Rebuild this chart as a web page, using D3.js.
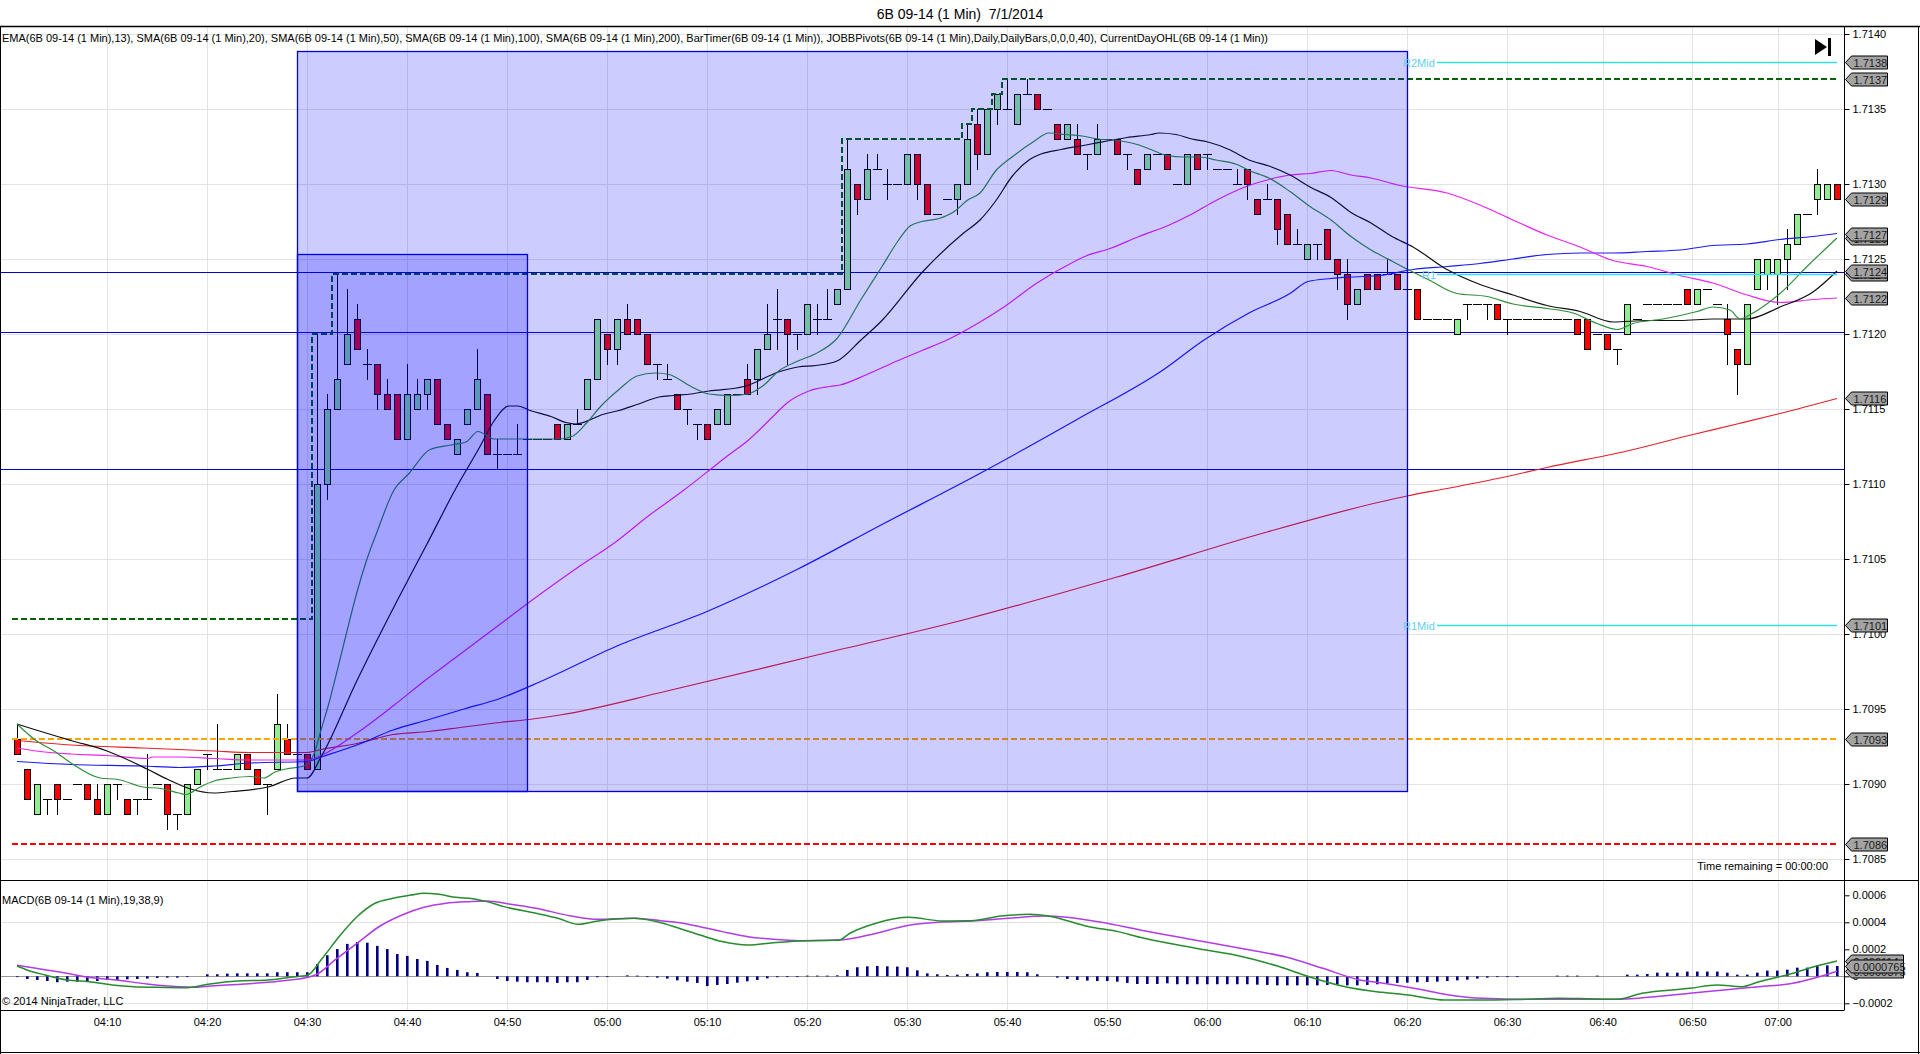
<!DOCTYPE html>
<html>
<head>
<meta charset="utf-8">
<script src="https://cdn.jsdelivr.net/npm/d3@7/dist/d3.min.js"></script>
<style>
html,body{margin:0;padding:0;background:#fff;overflow:hidden;}
svg{display:block;}
text{font-family:"Liberation Sans",Arial,sans-serif;}
</style>
</head>
<body>
<svg id="chart" width="1920" height="1054"></svg>
<script>
// ================= DATA =================
const chartTitle = "6B 09-14 (1 Min)  7/1/2014";
const indicatorText = "EMA(6B 09-14 (1 Min),13), SMA(6B 09-14 (1 Min),20), SMA(6B 09-14 (1 Min),50), SMA(6B 09-14 (1 Min),100), SMA(6B 09-14 (1 Min),200), BarTimer(6B 09-14 (1 Min)), JOBBPivots(6B 09-14 (1 Min),Daily,DailyBars,0,0,0,40), CurrentDayOHL(6B 09-14 (1 Min))";
const macdTitle = "MACD(6B 09-14 (1 Min),19,38,9)";
const copyrightText = "\u00A9 2014 NinjaTrader, LLC";
const timerText = "Time remaining = 00:00:00";

// time axis: bar index of each label (bars with no trades are skipped after 06:30)
const timeTickBars = [9,19,29,39,49,59,69,79,89,99,109,119,129,139,149,158.57,167.53,176.07];
const timeTickLabels = ["04:10","04:20","04:30","04:40","04:50","05:00","05:10","05:20","05:30","05:40","05:50","06:00","06:10","06:20","06:30","06:40","06:50","07:00"];
const priceTicks = [1.7085,1.7090,1.7095,1.7100,1.7105,1.7110,1.7115,1.7120,1.7125,1.7130,1.7135,1.7140];
const macdTicks = [-0.0002,0,0.0002,0.0004,0.0006];

// 1-minute OHLC bars
const barOpen = [
1.7093,1.7091,1.7088,1.7089,1.7090,1.7089,1.7090,1.7090,1.7089,1.7088,
1.7090,1.7089,1.7089,1.7089,1.7090,1.7090,1.7088,1.7088,1.7090,1.7092,
1.7091,1.7091,1.7091,1.7092,1.7091,1.7090,1.7091,1.7093,1.7092,1.7092,
1.7091,1.7110,1.7115,1.7118,1.7121,1.7118,1.7118,1.7116,1.7116,1.7113,
1.7115,1.7116,1.7117,1.7114,1.7112,1.7114,1.7115,1.7116,1.7112,1.7112,
1.7112,1.7113,1.7113,1.7113,1.7114,1.7113,1.7114,1.7115,1.7117,1.7120,
1.7119,1.7121,1.7121,1.7120,1.7118,1.7117,1.7116,1.7115,1.7114,1.7114,
1.7114,1.7114,1.7116,1.7117,1.7117,1.7119,1.7121,1.7121,1.7120,1.7120,
1.7121,1.7121,1.7122,1.7123,1.7130,1.7129,1.7131,1.7130,1.7130,1.7130,
1.7132,1.7130,1.7128,1.7129,1.7129,1.7130,1.7134,1.7132,1.7135,1.7135,
1.7134,1.7136,1.7136,1.7135,1.7134,1.7133,1.7133,1.7132,1.7132,1.7133,
1.7133,1.7132,1.7131,1.7131,1.7132,1.7132,1.7130,1.7130,1.7132,1.7132,
1.7131,1.7131,1.7130,1.7131,1.7129,1.7129,1.7129,1.7128,1.7126,1.7125,
1.7126,1.7127,1.7125,1.7124,1.7122,1.7124,1.7124,1.7124,1.7124,1.7123,
1.7123,1.7121,1.7121,1.7121,1.7120,1.7122,1.7122,1.7122,1.7122,1.7121,
1.7121,1.7121,1.7121,1.7121,1.7121,1.7121,1.7121,1.7121,1.7120,1.7120,
1.7119,1.7120,1.7121,1.7122,1.7122,1.7122,1.7122,1.7123,1.7122,1.7123,
1.7122,1.7121,1.7119,1.7118,1.7123,1.7124,1.7124,1.7125,1.7126,1.7128,
1.7129,1.7129,1.7130];
const barHigh = [
1.7094,1.7091,1.7090,1.7089,1.7090,1.7089,1.7090,1.7090,1.7090,1.7090,
1.7090,1.7089,1.7089,1.7092,1.7090,1.7090,1.7088,1.7090,1.7091,1.7092,
1.7094,1.7091,1.7092,1.7092,1.7091,1.7090,1.7096,1.7094,1.7092,1.7092,
1.7120,1.7116,1.7124,1.7123,1.7122,1.7119,1.7118,1.7117,1.7116,1.7118,
1.7117,1.7117,1.7117,1.7114,1.7113,1.7115,1.7119,1.7116,1.7113,1.7112,
1.7114,1.7113,1.7113,1.7113,1.7114,1.7114,1.7115,1.7117,1.7121,1.7120,
1.7121,1.7122,1.7121,1.7120,1.7118,1.7118,1.7116,1.7115,1.7114,1.7114,
1.7115,1.7116,1.7116,1.7118,1.7119,1.7122,1.7123,1.7121,1.7120,1.7122,
1.7122,1.7123,1.7123,1.7133,1.7130,1.7132,1.7132,1.7131,1.7130,1.7132,
1.7132,1.7130,1.7128,1.7129,1.7130,1.7134,1.7135,1.7135,1.7136,1.7137,
1.7136,1.7137,1.7136,1.7135,1.7134,1.7134,1.7134,1.7132,1.7134,1.7133,
1.7133,1.7132,1.7131,1.7132,1.7132,1.7132,1.7130,1.7132,1.7132,1.7132,
1.7131,1.7131,1.7131,1.7131,1.7129,1.7130,1.7129,1.7128,1.7127,1.7126,
1.7126,1.7127,1.7125,1.7125,1.7123,1.7124,1.7124,1.7125,1.7124,1.7123,
1.7123,1.7121,1.7121,1.7121,1.7121,1.7122,1.7122,1.7122,1.7122,1.7121,
1.7121,1.7121,1.7121,1.7121,1.7121,1.7121,1.7121,1.7121,1.7120,1.7120,
1.7119,1.7122,1.7121,1.7122,1.7122,1.7122,1.7122,1.7123,1.7123,1.7123,
1.7122,1.7122,1.7119,1.7122,1.7125,1.7125,1.7125,1.7127,1.7128,1.7128,
1.7131,1.7130,1.7130];
const barLow = [
1.7092,1.7089,1.7088,1.7088,1.7088,1.7089,1.7090,1.7089,1.7088,1.7088,
1.7089,1.7088,1.7088,1.7089,1.7090,1.7087,1.7087,1.7088,1.7090,1.7091,
1.7091,1.7091,1.7091,1.7091,1.7090,1.7088,1.7091,1.7092,1.7092,1.7091,
1.7091,1.7109,1.7115,1.7118,1.7119,1.7117,1.7115,1.7115,1.7113,1.7113,
1.7115,1.7115,1.7114,1.7113,1.7112,1.7114,1.7115,1.7112,1.7111,1.7112,
1.7112,1.7113,1.7113,1.7113,1.7113,1.7113,1.7114,1.7115,1.7117,1.7118,
1.7118,1.7120,1.7120,1.7118,1.7117,1.7117,1.7115,1.7114,1.7113,1.7113,
1.7114,1.7114,1.7116,1.7116,1.7116,1.7119,1.7119,1.7118,1.7119,1.7120,
1.7120,1.7121,1.7122,1.7123,1.7128,1.7129,1.7131,1.7129,1.7130,1.7130,
1.7129,1.7128,1.7128,1.7129,1.7128,1.7130,1.7131,1.7132,1.7134,1.7135,
1.7134,1.7136,1.7135,1.7135,1.7133,1.7133,1.7132,1.7131,1.7132,1.7133,
1.7132,1.7131,1.7130,1.7131,1.7132,1.7131,1.7130,1.7130,1.7131,1.7131,
1.7131,1.7131,1.7130,1.7129,1.7128,1.7129,1.7126,1.7126,1.7126,1.7125,
1.7125,1.7125,1.7123,1.7121,1.7122,1.7123,1.7123,1.7124,1.7123,1.7123,
1.7121,1.7121,1.7121,1.7121,1.7120,1.7121,1.7122,1.7121,1.7121,1.7120,
1.7121,1.7121,1.7121,1.7121,1.7121,1.7121,1.7120,1.7119,1.7120,1.7119,
1.7118,1.7120,1.7121,1.7122,1.7122,1.7122,1.7122,1.7122,1.7122,1.7123,
1.7122,1.7118,1.7116,1.7118,1.7123,1.7123,1.7122,1.7123,1.7126,1.7128,
1.7128,1.7129,1.7129];
const barClose = [
1.7092,1.7089,1.7090,1.7089,1.7089,1.7089,1.7090,1.7089,1.7088,1.7090,
1.7090,1.7088,1.7089,1.7089,1.7090,1.7088,1.7088,1.7090,1.7091,1.7092,
1.7091,1.7091,1.7092,1.7091,1.7090,1.7090,1.7094,1.7092,1.7092,1.7091,
1.7110,1.7115,1.7117,1.7120,1.7119,1.7118,1.7116,1.7115,1.7113,1.7116,
1.7116,1.7117,1.7114,1.7113,1.7113,1.7115,1.7117,1.7112,1.7112,1.7112,
1.7112,1.7113,1.7113,1.7113,1.7113,1.7114,1.7114,1.7117,1.7121,1.7119,
1.7121,1.7120,1.7120,1.7118,1.7118,1.7117,1.7115,1.7115,1.7114,1.7113,
1.7115,1.7116,1.7116,1.7116,1.7119,1.7120,1.7121,1.7120,1.7120,1.7122,
1.7121,1.7121,1.7123,1.7131,1.7129,1.7131,1.7131,1.7130,1.7130,1.7132,
1.7130,1.7128,1.7128,1.7129,1.7130,1.7133,1.7132,1.7135,1.7136,1.7135,
1.7136,1.7136,1.7135,1.7135,1.7133,1.7134,1.7132,1.7132,1.7133,1.7133,
1.7132,1.7132,1.7130,1.7132,1.7132,1.7131,1.7130,1.7132,1.7131,1.7132,
1.7131,1.7131,1.7130,1.7130,1.7128,1.7129,1.7127,1.7126,1.7126,1.7126,
1.7126,1.7125,1.7124,1.7122,1.7123,1.7123,1.7123,1.7124,1.7123,1.7123,
1.7121,1.7121,1.7121,1.7121,1.7121,1.7122,1.7122,1.7122,1.7121,1.7121,
1.7121,1.7121,1.7121,1.7121,1.7121,1.7121,1.7120,1.7119,1.7120,1.7119,
1.7119,1.7122,1.7121,1.7122,1.7122,1.7122,1.7122,1.7122,1.7123,1.7123,
1.7122,1.7120,1.7118,1.7122,1.7125,1.7125,1.7125,1.7126,1.7128,1.7128,
1.7130,1.7130,1.7129];

// moving averages: [bar index, price]
const ema13 = [[0,1.70940],[1.9,1.70929],[3.7,1.70922],[5.4,1.70914],[8.3,1.70904],[10.1,1.70903],[12.6,1.70898],[14.4,1.70897],[16.2,1.70894],[16.9,1.70893],[18.3,1.70898],[19.7,1.70902],[21.5,1.70904],[23.3,1.70905],[24.7,1.70904],[25.8,1.70908],[26.9,1.70910],[28.7,1.70912],[29.7,1.70920],[30.4,1.70936],[31.2,1.70954],[32,1.70975],[33,1.71002],[34,1.71028],[35,1.71050],[36,1.71068],[37.7,1.71096],[39.2,1.71107],[41.3,1.71123],[43.4,1.71126],[44.9,1.71128],[46.1,1.71135],[47.7,1.71130],[49.2,1.71130],[51.3,1.71130],[54.2,1.71130],[55.6,1.71132],[57,1.71141],[58.4,1.71152],[60.2,1.71163],[62,1.71172],[63.8,1.71174],[65.2,1.71173],[67.4,1.71165],[69.2,1.71160],[71.3,1.71159],[73.1,1.71160],[74.5,1.71165],[76.3,1.71176],[78.1,1.71182],[79.9,1.71187],[82,1.71197],[84.4,1.71223],[86.5,1.71245],[88.1,1.71262],[89.3,1.71272],[90.5,1.71275],[92.2,1.71277],[93.8,1.71282],[95,1.71289],[96.3,1.71294],[97.9,1.71309],[99.5,1.71318],[101.6,1.71328],[103.2,1.71334],[104.8,1.71333],[106.5,1.71332],[108.1,1.71330],[110.1,1.71329],[112.2,1.71326],[113.4,1.71323],[115,1.71319],[116.7,1.71318],[118.3,1.71318],[119.9,1.71316],[122,1.71313],[123.2,1.71309],[125.2,1.71304],[127.3,1.71295],[129.3,1.71285],[131.4,1.71276],[133.4,1.71265],[135.4,1.71256],[137.1,1.71250],[139.1,1.71243],[141.2,1.71236],[144,1.71227],[147,1.71225],[149.6,1.71220],[153,1.71217],[155.6,1.71214],[158,1.71207],[160,1.71203],[161.6,1.71207],[164.6,1.71210],[168,1.71215],[169.6,1.71218],[171.3,1.71216],[172.3,1.71210],[173.6,1.71214],[176.3,1.71227],[179,1.71245],[182,1.71264]];
const sma20 = [[0,1.70940],[1.9,1.70936],[5.4,1.70929],[9,1.70922],[10.8,1.70917],[13,1.70910],[15.1,1.70903],[17.2,1.70897],[19.7,1.70894],[21.5,1.70895],[25.1,1.70898],[27.9,1.70904],[29,1.70904],[30.4,1.70918],[34,1.70969],[38,1.71022],[41,1.71060],[43.8,1.71096],[46.3,1.71125],[47.7,1.71142],[49.2,1.71152],[50.1,1.71152],[51.3,1.71149],[53.4,1.71145],[54.9,1.71141],[55.9,1.71140],[57.4,1.71143],[58.4,1.71146],[60.2,1.71149],[62,1.71153],[64.2,1.71158],[65.6,1.71159],[67.4,1.71160],[69.2,1.71162],[72.7,1.71165],[76.3,1.71175],[78.1,1.71178],[79.9,1.71179],[82,1.71182],[84.4,1.71196],[86.5,1.71209],[90.5,1.71241],[94.6,1.71267],[96.3,1.71276],[97.9,1.71289],[99.5,1.71305],[101.2,1.71316],[102.4,1.71320],[104.4,1.71323],[106.9,1.71326],[109.3,1.71329],[111,1.71331],[113.4,1.71333],[114.2,1.71334],[115.9,1.71333],[117.5,1.71330],[119.1,1.71328],[121.2,1.71323],[123.2,1.71316],[125.2,1.71312],[127.3,1.71306],[129.3,1.71298],[131.4,1.71291],[133.4,1.71281],[135.4,1.71274],[137.5,1.71265],[139.6,1.71258],[143,1.71243],[146.3,1.71233],[149.6,1.71226],[153,1.71219],[156.3,1.71215],[159.6,1.71208],[163,1.71209],[166.3,1.71209],[169.6,1.71210],[173,1.71210],[176.3,1.71218],[179.6,1.71228],[182,1.71242]];
const sma50 = [[0,1.70924],[1.9,1.70922],[5.4,1.70920],[9,1.70919],[13.1,1.70917],[13.5,1.70918],[16.2,1.70918],[19.7,1.70917],[23.3,1.70916],[29,1.70916],[30.4,1.70919],[34,1.70934],[37.6,1.70952],[40.8,1.70969],[44,1.70985],[48,1.71005],[52,1.71025],[56,1.71044],[60,1.71062],[63,1.71078],[66.7,1.71096],[69.2,1.71109],[70.9,1.71118],[73.1,1.71129],[75.6,1.71145],[77,1.71154],[79.2,1.71162],[81.3,1.71165],[82.3,1.71166],[85,1.71173],[88,1.71182],[90.5,1.71189],[93,1.71196],[95.8,1.71206],[98.7,1.71218],[102,1.71234],[104.8,1.71245],[106.9,1.71252],[109.3,1.71257],[112.2,1.71265],[115,1.71272],[117.5,1.71280],[119.9,1.71289],[122.8,1.71298],[125.2,1.71303],[127.3,1.71306],[129.3,1.71307],[131.4,1.71309],[133.4,1.71306],[135.4,1.71304],[138.3,1.71299],[143,1.71294],[146.3,1.71286],[149.6,1.71276],[153,1.71266],[156.3,1.71258],[159.6,1.71249],[163,1.71245],[166.3,1.71239],[169.6,1.71234],[173,1.71226],[176.3,1.71221],[179.6,1.71223],[182,1.71224]];
const sma100 = [[0,1.70915],[5.4,1.70913],[12.6,1.70912],[16.2,1.70911],[19.7,1.70912],[23.3,1.70914],[29,1.70915],[30.4,1.70918],[34,1.70926],[37.6,1.70936],[41.2,1.70943],[44.7,1.70950],[48.3,1.70957],[52.6,1.70969],[60,1.70992],[69,1.71015],[78,1.71043],[86.5,1.71073],[96,1.71106],[106,1.71143],[114.6,1.71176],[118.7,1.71196],[123.2,1.71214],[127.3,1.71227],[129.1,1.71235],[131.4,1.71237],[133.4,1.71238],[136.3,1.71239],[139.6,1.71243],[143,1.71245],[146.3,1.71247],[149.6,1.71250],[153,1.71253],[156.3,1.71254],[159.6,1.71254],[163,1.71255],[166.3,1.71256],[169.6,1.71259],[173,1.71260],[176.3,1.71263],[179.6,1.71265],[182,1.71267]];
const sma200 = [[0,1.70929],[5.4,1.70926],[12.6,1.70924],[19.7,1.70922],[23.3,1.70921],[29,1.70921],[30.4,1.70923],[34,1.70927],[37.6,1.70933],[41.2,1.70935],[44.7,1.70938],[48.3,1.70941],[51.2,1.70943],[54.3,1.70946],[65,1.70962],[80,1.70986],[95,1.71010],[110,1.71038],[125,1.71068],[136.3,1.71088],[139,1.71092],[143,1.71097],[149,1.71105],[153,1.71111],[161,1.71122],[167.6,1.71133],[172,1.71140],[176.3,1.71147],[182,1.71157]];

// MACD(19,38,9): lines [bar index, value]; histogram per bar
const macdLine = [[0,0.000076],[1,0.000047],[2.8,0.000010],[5,-0.000027],[7.2,-0.000040],[9.5,-0.000064],[11.7,-0.000077],[13.9,-0.000081],[17,-0.000084],[19.3,-0.000057],[22,-0.000035],[25.1,-0.000027],[27.3,-0.000007],[29.1,0.000010],[30.4,0.000121],[32.2,0.000293],[34,0.000441],[35.8,0.000541],[37.6,0.000578],[39.4,0.000602],[40.7,0.000615],[42,0.000610],[43.8,0.000585],[45.6,0.000575],[47,0.000553],[48.7,0.000516],[51.9,0.000467],[54.1,0.000430],[56.1,0.000385],[58.1,0.000410],[59.9,0.000424],[61.7,0.000430],[64,0.000404],[66.2,0.000356],[68.3,0.000306],[70.5,0.000257],[73.1,0.000232],[75.6,0.000249],[78.2,0.000262],[82.2,0.000269],[83.3,0.000319],[85.9,0.000393],[89.2,0.000437],[92.5,0.000410],[95.4,0.000412],[98.4,0.000447],[101.3,0.000459],[103.1,0.000447],[107.2,0.000367],[110.1,0.000331],[112.3,0.000289],[115.2,0.000244],[118.9,0.000195],[121.8,0.000158],[126.2,0.000072],[129.2,-0.000003],[132.8,-0.000077],[136.5,-0.000119],[139.1,-0.000139],[142.8,-0.000176],[146.3,-0.000176],[150,-0.000172],[154.2,-0.000163],[157,-0.000166],[160,-0.000170],[162.5,-0.000126],[167.3,-0.000089],[170,-0.000064],[172.5,-0.000077],[174.2,-0.000040],[177.6,0.000022],[179.7,0.000071],[182,0.000114]];
const macdAvg = [[0,0.000081],[1.9,0.000059],[5,0.000022],[7.2,-0.000007],[9.9,-0.000027],[13,-0.000057],[16.2,-0.000077],[17.5,-0.000081],[19.7,-0.000070],[22.4,-0.000059],[25.1,-0.000044],[27.3,-0.000027],[29.1,-0.000007],[30,0.000015],[31.8,0.000121],[34,0.000244],[36.2,0.000367],[38.5,0.000454],[40.7,0.000511],[42.9,0.000541],[45.2,0.000553],[47,0.000558],[49.2,0.000536],[51.9,0.000504],[55.4,0.000447],[58.1,0.000422],[61.7,0.000430],[64.4,0.000412],[66.6,0.000393],[68.3,0.000367],[70.5,0.000331],[73.1,0.000293],[75.6,0.000274],[78.2,0.000264],[82.2,0.000269],[85.2,0.000306],[89.2,0.000378],[92.5,0.000402],[95.4,0.000410],[99.1,0.000430],[102.8,0.000447],[105,0.000437],[108.6,0.000398],[112.3,0.000343],[116,0.000293],[119.6,0.000244],[123.3,0.000195],[127,0.000141],[130.6,0.000059],[134.3,-0.000027],[136.3,-0.000047],[139.7,-0.000089],[143.2,-0.000138],[146.6,-0.000163],[150.8,-0.000170],[157,-0.000170],[160.4,-0.000170],[163.8,-0.000151],[167.3,-0.000126],[170.7,-0.000101],[174.2,-0.000077],[177.6,-0.000052],[179.7,-0.000015],[182,0.0000375]];
const macdDiff = [
-0.000002,-0.000020,-0.000027,-0.000035,-0.000044,-0.000040,-0.000040,-0.000040,-0.000035,-0.000027,
-0.000027,-0.000022,-0.000020,-0.000017,-0.000012,-0.000010,-0.000010,-0.000002,0,0.000015,
0.000015,0.000020,0.000022,0.000022,0.000022,0.000022,0.000030,0.000030,0.000030,0.000030,
0.000091,0.000156,0.000202,0.000240,0.000254,0.000249,0.000225,0.000202,0.000165,0.000151,
0.000128,0.000114,0.000084,0.000062,0.000047,0.000030,0.000025,0,-0.000020,-0.000035,
-0.000040,-0.000044,-0.000044,-0.000044,-0.000049,-0.000044,-0.000044,-0.000027,-0.000007,-0.000005,
0,0.000007,0.000005,-0.000002,-0.000010,-0.000017,-0.000030,-0.000040,-0.000049,-0.000072,
-0.000064,-0.000057,-0.000047,-0.000037,-0.000027,-0.000015,-0.000007,-0.000005,-0.000002,0.000005,
0.000005,0.000005,0.000007,0.000047,0.000067,0.000074,0.000077,0.000074,0.000072,0.000067,
0.000044,0.000022,0.000015,0.000010,0.000012,0.000017,0.000022,0.000030,0.000032,0.000032,
0.000032,0.000030,0.000015,0,-0.000010,-0.000020,-0.000027,-0.000032,-0.000035,-0.000035,
-0.000040,-0.000049,-0.000057,-0.000057,-0.000057,-0.000052,-0.000059,-0.000059,-0.000059,-0.000059,
-0.000059,-0.000059,-0.000059,-0.000059,-0.000062,-0.000064,-0.000067,-0.000067,-0.000067,-0.000067,
-0.000067,-0.000064,-0.000062,-0.000067,-0.000067,-0.000064,-0.000059,-0.000054,-0.000049,-0.000047,
-0.000044,-0.000042,-0.000040,-0.000035,-0.000030,-0.000025,-0.000017,-0.000010,-0.000005,-0.000002,
-0.000002,0,0,0,0.000005,0.000005,0.000005,0,0.000005,0,
0,0.000012,0.000012,0.000017,0.000027,0.000027,0.000027,0.000035,0.000035,0.000035,
0.000035,0.000027,0.000012,0.000012,0.000027,0.000042,0.000042,0.000049,0.000064,0.000064,
0.000081,0.000081,0.0000765];

// CurrentDayOHL
const dayOpen = 1.7093;
const dayLow = 1.7086;
const dayHighSteps = [[0,1.7101],[30,1.7120],[32,1.7124],[83,1.7133],[95,1.7134],[96,1.7135],[98,1.7136],[99,1.7137]];
// JOBBPivots: opening range boxes, range lines, pivot levels
const rangeBoxes = [{from:28,to:139,top:1.71389,bottom:1.70895},{from:28,to:51,top:1.71253,bottom:1.70895}];
const rangeLines = [1.712415,1.71201,1.71110];
const pivotNames = ["R2Mid","R1","R1Mid"];
const pivotValues = [1.71381,1.71240,1.71006];

// ================= LAYOUT =================
const W = 1920, H = 1054;
const plotRight = 1844, priceTop = 27, priceBottom = 880, macdBottom = 1010.5;
const lastBar = barClose.length - 1;
const svg = d3.select("#chart");
const x = d3.scaleLinear().domain([0, lastBar]).range([17, 17 + 10 * lastBar]);
const y = d3.scaleLinear().domain([1.7085, 1.7140]).range([859, 34]);
const ym = d3.scaleLinear().domain([-0.0002, 0.0006]).range([1003.3, 895.3]);

svg.append("rect").attr("width", W).attr("height", H).attr("fill", "#fff");
const defs = svg.append("defs");
defs.append("clipPath").attr("id", "clipP").append("rect").attr("x", 0).attr("y", priceTop).attr("width", plotRight).attr("height", priceBottom - priceTop);
defs.append("clipPath").attr("id", "clipM").append("rect").attr("x", 0).attr("y", priceBottom).attr("width", plotRight).attr("height", macdBottom - priceBottom);

// title
svg.append("text").attr("x", 960).attr("y", 18.5).attr("text-anchor", "middle").attr("font-size", 14).style("white-space", "pre").text(chartTitle);

// grid
const grid = svg.append("g").attr("stroke", "#e3e3e3").attr("stroke-width", 1);
priceTicks.forEach(p => {
  const yy = Math.round(y(p)) + 0.5;
  grid.append("line").attr("x1", 0).attr("x2", plotRight).attr("y1", yy).attr("y2", yy);
});
[0.0004, -0.0002].forEach(v => {
  const yy = Math.round(ym(v)) + 0.5;
  grid.append("line").attr("x1", 0).attr("x2", plotRight).attr("y1", yy).attr("y2", yy);
});
timeTickBars.forEach(b => {
  const xx = Math.round(x(b)) + 0.5;
  grid.append("line").attr("x1", xx).attr("x2", xx).attr("y1", priceTop).attr("y2", macdBottom);
});

// price panel content
const pg = svg.append("g").attr("clip-path", "url(#clipP)");

// range lines
rangeLines.forEach(p => {
  const yy = Math.round(y(p)) + 0.5;
  pg.append("line").attr("x1", 0).attr("x2", plotRight).attr("y1", yy).attr("y2", yy).attr("stroke", "#0000c8").attr("stroke-width", 1.2);
});

// candles
const cg = pg.append("g");
barOpen.forEach((o, i) => {
  const c = barClose[i], h = barHigh[i], l = barLow[i];
  const cx = Math.round(x(i)) + 0.5;
  if (h - l > 1e-7) {
    cg.append("line").attr("x1", cx).attr("x2", cx).attr("y1", Math.round(y(h))).attr("y2", Math.round(y(l)) + 1).attr("stroke", "#000").attr("stroke-width", 1);
  }
  if (Math.abs(o - c) < 1e-7) {
    const yy = Math.round(y(o)) + 0.5;
    cg.append("line").attr("x1", cx - 4.5).attr("x2", cx + 4.5).attr("y1", yy).attr("y2", yy).attr("stroke", "#000").attr("stroke-width", 1);
  } else {
    const t = Math.round(y(Math.max(o, c))), b = Math.round(y(Math.min(o, c)));
    cg.append("rect").attr("x", cx - 3).attr("y", t + 0.5).attr("width", 6).attr("height", b - t)
      .attr("fill", c > o ? "#90ee90" : "#ff0000").attr("stroke", "#000").attr("stroke-width", 1);
  }
});

// CurrentDayOHL dashed lines
const dashG = pg.append("g").attr("fill", "none").attr("stroke-width", 2);
dashG.append("line").attr("x1", x(-0.5)).attr("x2", x(lastBar + 0.1)).attr("y1", y(dayOpen)).attr("y2", y(dayOpen)).attr("stroke", "#ffa500").attr("stroke-dasharray", "6,3");
dashG.append("line").attr("x1", x(-0.5)).attr("x2", x(lastBar + 0.1)).attr("y1", y(dayLow)).attr("y2", y(dayLow)).attr("stroke", "#ff0000").attr("stroke-dasharray", "6,3");
const stepPts = [];
dayHighSteps.forEach((s, k) => {
  const end = k < dayHighSteps.length - 1 ? dayHighSteps[k + 1][0] : lastBar + 0.6;
  stepPts.push([s[0] - 0.5, s[1]], [end - 0.5, s[1]]);
});
dashG.append("path").attr("d", d3.line().x(d => x(d[0])).y(d => y(d[1]))(stepPts)).attr("stroke", "#006400").attr("stroke-dasharray", "6,3");

// moving averages
const maLine = d3.line().x(d => x(d[0])).y(d => y(d[1])).curve(d3.curveMonotoneX);
const maG = pg.append("g").attr("fill", "none").attr("stroke-width", 1.2);
maG.append("path").attr("d", maLine(sma200)).attr("stroke", "#e8202a");
maG.append("path").attr("d", maLine(sma100)).attr("stroke", "#1c1cf0");
maG.append("path").attr("d", maLine(sma50)).attr("stroke", "#ee22ee");
maG.append("path").attr("d", maLine(sma20)).attr("stroke", "#111");
maG.append("path").attr("d", maLine(ema13)).attr("stroke", "#2f8f3a");

// opening range boxes (translucent overlay)
rangeBoxes.forEach(bx => {
  const x0 = Math.round(x(bx.from)) + 0.5, x1 = Math.round(x(bx.to)) + 0.5;
  const y0 = Math.round(y(bx.top)) + 0.5, y1 = Math.round(y(bx.bottom)) + 0.5;
  pg.append("rect").attr("x", x0).attr("y", y0).attr("width", x1 - x0).attr("height", y1 - y0)
    .attr("fill", "rgba(0,0,255,0.2)").attr("stroke", "#0000dd").attr("stroke-width", 1.3);
});

// pivot levels
pivotValues.forEach((v, k) => {
  const yy = Math.round(y(v)) + 0.5;
  pg.append("line").attr("x1", x(142)).attr("x2", x(lastBar)).attr("y1", yy).attr("y2", yy).attr("stroke", "#33e0e6").attr("stroke-width", 1.3);
  const tx = pivotNames[k] === "R1" ? x(140.5) : x(138.6);
  pg.append("text").attr("x", tx).attr("y", yy + 4).attr("font-size", 11).attr("fill", "#5fd0f0").text(pivotNames[k]);
});

// ---- MACD panel ----
const mg = svg.append("g").attr("clip-path", "url(#clipM)");
mg.append("line").attr("x1", 0).attr("x2", plotRight).attr("y1", Math.round(ym(0)) + 0.5).attr("y2", Math.round(ym(0)) + 0.5).attr("stroke", "#9a9a9a").attr("stroke-width", 1);
macdDiff.forEach((v, i) => {
  if (Math.abs(v) < 1e-9) return;
  const y0 = ym(0), y1 = ym(v);
  mg.append("rect").attr("x", x(i) - 1).attr("width", 2.6).attr("y", Math.min(y0, y1)).attr("height", Math.max(0.8, Math.abs(y1 - y0))).attr("fill", "#000080");
});
const mLine = d3.line().x(d => x(d[0])).y(d => ym(d[1])).curve(d3.curveMonotoneX);
mg.append("path").attr("d", mLine(macdAvg)).attr("fill", "none").attr("stroke", "#b03ce6").attr("stroke-width", 1.5);
mg.append("path").attr("d", mLine(macdLine)).attr("fill", "none").attr("stroke", "#268c2e").attr("stroke-width", 1.5);

// texts in panels
svg.append("text").attr("x", 2).attr("y", 42).attr("font-size", 11).attr("textLength", 1266).attr("lengthAdjust", "spacingAndGlyphs").text(indicatorText);
svg.append("text").attr("x", 2).attr("y", 904).attr("font-size", 11).text(macdTitle);
svg.append("text").attr("x", 2).attr("y", 1005).attr("font-size", 11).text(copyrightText);
svg.append("text").attr("x", 1828).attr("y", 870).attr("font-size", 11).attr("text-anchor", "end").text(timerText);

// go-to-end icon
svg.append("path").attr("d", "M1815,39 L1827,47 L1815,55 Z").attr("fill", "#000");
svg.append("rect").attr("x", 1828).attr("y", 38).attr("width", 3).attr("height", 18).attr("fill", "#000");

// frame lines
const frame = svg.append("g").attr("stroke", "#000").attr("fill", "none");
frame.append("line").attr("x1", 0).attr("x2", W).attr("y1", 26.5).attr("y2", 26.5).attr("stroke-width", 1.5);
frame.append("line").attr("x1", 0).attr("x2", 1918).attr("y1", 880.5).attr("y2", 880.5);
frame.append("line").attr("x1", 0).attr("x2", plotRight).attr("y1", macdBottom).attr("y2", macdBottom);
frame.append("line").attr("x1", 0.5).attr("x2", 0.5).attr("y1", 26).attr("y2", H);
frame.append("line").attr("x1", 1918.5).attr("x2", 1918.5).attr("y1", 26).attr("y2", H);
frame.append("line").attr("x1", 0).attr("x2", W).attr("y1", H - 1.5).attr("y2", H - 1.5);
frame.append("line").attr("x1", plotRight + 0.5).attr("x2", plotRight + 0.5).attr("y1", 26).attr("y2", macdBottom);

// axes
const fmtP = d3.format(".4f");
const ax = svg.append("g").attr("transform", `translate(${plotRight + 0.5},0)`)
  .call(d3.axisRight(y).tickValues(priceTicks).tickFormat(fmtP).tickSize(5).tickPadding(3));
const axm = svg.append("g").attr("transform", `translate(${plotRight + 0.5},0)`)
  .call(d3.axisRight(ym).tickValues(macdTicks).tickFormat(d => d === 0 ? "0" : fmtP(d)).tickSize(5).tickPadding(3));
const axt = svg.append("g").attr("transform", `translate(0,${macdBottom})`)
  .call(d3.axisBottom(x).tickValues(timeTickBars).tickFormat((d, i) => timeTickLabels[i]).tickSize(0).tickPadding(8));
[ax, axm, axt].forEach(g => {
  g.select(".domain").remove();
  g.selectAll("text").attr("font-size", 11).attr("font-family", "'Liberation Sans',Arial,sans-serif").attr("fill", "#000");
  g.selectAll("line").attr("stroke", "#000");
});

// value tags on the right axis (stacked like the platform draws them)
function tag(yc, label, w) {
  const g = svg.append("g");
  g.append("path").attr("d", `M${plotRight + 1.5},${yc} L${plotRight + 7.5},${yc - 6.5} L${plotRight + 7.5 + w},${yc - 6.5} L${plotRight + 7.5 + w},${yc + 6.5} L${plotRight + 7.5},${yc + 6.5} Z`)
    .attr("fill", "#a3a3a3").attr("stroke", "#000").attr("stroke-width", 1);
  g.append("text").attr("x", plotRight + 9.5).attr("y", yc + 4).attr("font-size", 11).attr("fill", "#1a1a1a").text(label);
}
const last = a => a[a.length - 1][1];
const priceTags = [
  pivotValues[2], dayOpen, dayLow, last(sma200), last(sma50), pivotValues[1], last(sma20),
  last(ema13), last(sma100), barClose[lastBar], dayHighSteps[dayHighSteps.length - 1][1], pivotValues[0]
];
priceTags.forEach(v => tag(Math.round(y(v)) + 0.5, fmtP(v), 36));
const fmtM = v => v.toFixed(7).replace(/0+$/, "");
[last(macdLine), last(macdAvg), macdDiff[lastBar]].forEach(v => tag(Math.round(ym(v)) + 0.5, fmtM(v), 52));
</script>
</body>
</html>
